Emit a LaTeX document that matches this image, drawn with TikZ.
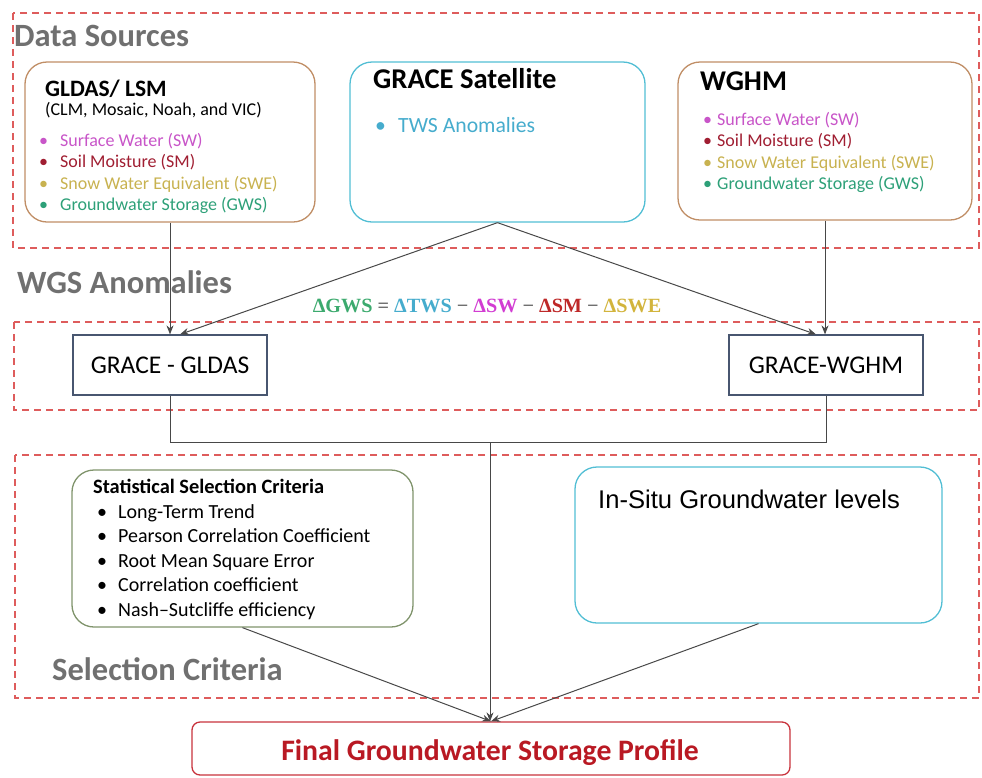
\documentclass[tikz,border=0pt]{standalone}
\usepackage{fontspec}
\setmainfont{Carlito}
\newfontfamily\arialfont{Liberation Sans}
\newfontfamily\eqfont{Liberation Serif}
\usetikzlibrary{positioning}
\usetikzlibrary{arrows.meta}
\definecolor{regionred}{RGB}{222,92,92}
\definecolor{labelgray}{RGB}{112,112,112}
\definecolor{linegray}{RGB}{72,72,72}
\definecolor{boxorange}{RGB}{192,142,102}
\definecolor{boxcyan}{RGB}{82,190,212}
\definecolor{boxgreen}{RGB}{128,148,108}
\definecolor{diffblue}{RGB}{72,86,112}
\definecolor{finalred}{RGB}{200,50,60}
\definecolor{finaltext}{RGB}{185,25,35}
\definecolor{swcol}{RGB}{200,85,200}
\definecolor{smcol}{RGB}{160,30,50}
\definecolor{swecol}{RGB}{200,178,80}
\definecolor{gwscol}{RGB}{45,160,120}
\definecolor{twscol}{RGB}{70,172,205}
\definecolor{eqsw}{RGB}{210,60,210}
\definecolor{eqsm}{RGB}{190,40,40}
\definecolor{eqswe}{RGB}{210,180,60}
\definecolor{eqgws}{RGB}{60,170,110}
\tikzset{>={Stealth[length=9pt,width=7pt]}}
\tikzset{
	% dashed group frames
	region/.style={draw=regionred,dash pattern=on 7pt off 5pt,line width=1.4pt},
	% boxes
	srcbox/.style={draw,rounded corners=22pt,line width=1.3pt},
	diffbox/.style={draw=diffblue,line width=1.2pt,minimum width=194pt,minimum height=60pt,inner sep=0pt,font=\fontsize{25.5}{30}\selectfont},
	conn/.style={draw=linegray,line width=1pt},
	% texts
	seclabel/.style={anchor=base west,inner sep=0pt,text=labelgray,font=\fontsize{32.5}{38}\selectfont\bfseries},
	itemtext/.style={anchor=base west,inner sep=0pt,font=\fontsize{18}{22}\selectfont},
	crittext/.style={anchor=base west,inner sep=0pt,font=\fontsize{20}{24}\selectfont},
}

\begin{document}
\begin{tikzpicture}[x=1pt,y=-1pt]
	\useasboundingbox (0,0) rectangle (982,777);
	
	\draw[region] (13,13) rectangle (979,248);
	\draw[region] (14,322) rectangle (979,410);
	\draw[region] (15,455) rectangle (979,698);
	
	\node[seclabel] (lbldata) at (14,46) {Data Sources};
	\node[seclabel] (lblwgs) at (17,293) {WGS Anomalies};
	\node[seclabel] (lblsel) at (52,680) {Selection Criteria};
	
	% data sources
	\node[srcbox,draw=boxorange,minimum width=290pt,minimum height=160pt] (gldas) at (170,142) {};
	\node[anchor=base west,inner sep=0pt,font=\fontsize{23.5}{28}\selectfont\bfseries] (gldastitle) at (45,96) {GLDAS/ LSM};
	\node[itemtext] (gldasmodels) at (45,115) {(CLM, Mosaic, Noah, and VIC)};
	\node[itemtext,text=swcol] (gldassw) at (39,146) {\makebox[21pt][l]{•}Surface Water (SW)};
	\node[itemtext,text=smcol] (gldassm) at (39,167.5) {\makebox[21pt][l]{•}Soil Moisture (SM)};
	\node[itemtext,text=swecol] (gldasswe) at (39,189) {\makebox[21pt][l]{•}Snow Water Equivalent (SWE)};
	\node[itemtext,text=gwscol] (gldasgws) at (39,210.5) {\makebox[21pt][l]{•}Groundwater Storage (GWS)};
	
	\node[srcbox,draw=boxcyan,minimum width=295pt,minimum height=160pt] (grace) at (497.5,142) {};
	\node[anchor=base west,inner sep=0pt,font=\fontsize{28.6}{34}\selectfont\bfseries] (gracetitle) at (373,88) {GRACE Satellite};
	\node[anchor=base west,inner sep=0pt,text=twscol,font=\fontsize{21.7}{26}\selectfont] (gracetws) at (375,132) {\makebox[23pt][l]{•}TWS Anomalies};
	
	\node[srcbox,draw=boxorange,minimum width=294pt,minimum height=158pt] (wghm) at (825,141) {};
	\node[anchor=base west,inner sep=0pt,font=\fontsize{28.6}{34}\selectfont\bfseries] (wghmtitle) at (700,90) {WGHM};
	\node[itemtext,text=swcol] (wghmsw) at (703,125) {\makebox[14pt][l]{•}Surface Water (SW)};
	\node[itemtext,text=smcol] (wghmsm) at (703,146.5) {\makebox[14pt][l]{•}Soil Moisture (SM)};
	\node[itemtext,text=swecol] (wghmswe) at (703,168) {\makebox[14pt][l]{•}Snow Water Equivalent (SWE)};
	\node[itemtext,text=gwscol] (wghmgws) at (703,189.5) {\makebox[14pt][l]{•}Groundwater Storage (GWS)};
	
	% anomalies
	\node[anchor=base,inner sep=0pt,font=\eqfont\fontsize{20.2}{24}\selectfont\bfseries] (balance) at (487,312)
		{\textcolor{eqgws}{ΔGWS} \textcolor{labelgray}{=} \textcolor{twscol}{ΔTWS} \textcolor{labelgray}{−} \textcolor{eqsw}{ΔSW} \textcolor{labelgray}{−} \textcolor{eqsm}{ΔSM} \textcolor{labelgray}{−} \textcolor{eqswe}{ΔSWE}};
	\node[diffbox] (gracegldas) at (170,365) {GRACE - GLDAS};
	\node[diffbox] (gracewghm) at (826,365) {GRACE-WGHM};
	
	% selection
	\node[srcbox,draw=boxgreen,minimum width=341pt,minimum height=157pt] (stats) at (242.5,548.5) {};
	\node[crittext,font=\fontsize{20.4}{24}\selectfont\bfseries] (statstitle) at (93,493) {Statistical Selection Criteria};
	\node[crittext] (crit1) at (97,518) {\makebox[21pt][l]{•}Long-Term Trend};
	\node[crittext] (crit2) at (97,542) {\makebox[21pt][l]{•}Pearson Correlation Coefficient};
	\node[crittext] (crit3) at (97,567) {\makebox[21pt][l]{•}Root Mean Square Error};
	\node[crittext] (crit4) at (97,591) {\makebox[21pt][l]{•}Correlation coefficient};
	\node[crittext] (crit5) at (97,616) {\makebox[21pt][l]{•}Nash–Sutcliffe efficiency};
	
	\node[srcbox,draw=boxcyan,minimum width=367pt,minimum height=156pt] (insitu) at (758.5,545) {};
	\node[anchor=base west,inner sep=0pt,font=\arialfont\fontsize{25.6}{30}\selectfont] (insitutext) at (598,508) {In-Situ Groundwater levels};
	
	\node[draw=finalred,line width=1.3pt,rounded corners=8pt,minimum width=598pt,minimum height=53pt] (final) at (491,748.5) {};
	\node[anchor=base,inner sep=0pt,text=finaltext,font=\fontsize{29.7}{35}\selectfont\bfseries] (finallabel) at (490,760) {Final Groundwater Storage Profile};
	
	% connectors
	\draw[conn,->] (gldas.south) -- (gldas.south |- gracegldas.north);
	\draw[conn,->] (grace.south) -- ([xshift=10pt]gracegldas.north);
	\draw[conn,->] (grace.south) -- ([xshift=-10pt]gracewghm.north);
	\draw[conn,->] (wghm.south) -- (wghm.south |- gracewghm.north);
	
	\coordinate (join) at (490,442);
	\draw[conn] (gracegldas.south) |- (join);
	\draw[conn] (gracewghm.south) |- (join);
	\draw[conn,->] (join) -- (join |- final.north);
	\draw[conn,->] (stats.south) -- (final.north);
	\draw[conn,->] (insitu.south) -- (final.north);
	
\end{tikzpicture}
\end{document}
